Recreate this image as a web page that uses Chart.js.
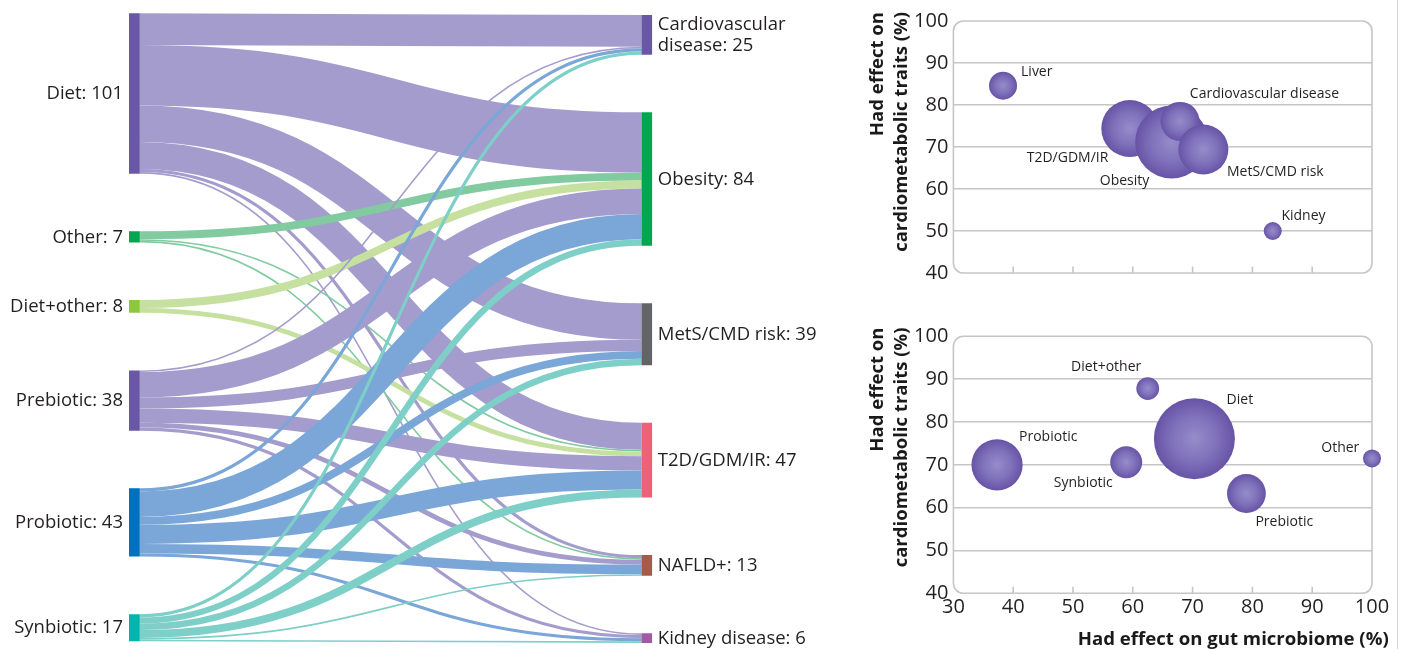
<!DOCTYPE html>
<html><head><meta charset="utf-8">
<script src="https://cdn.jsdelivr.net/npm/chart.js@4.4.1/dist/chart.umd.min.js"></script>
<style>
html,body{margin:0;padding:0;background:#fff;width:1401px;height:649px;overflow:hidden;}
.box{position:absolute;}
#sankeyBox{left:0;top:0;width:860px;height:649px;}
#topBox{left:860px;top:0;width:541px;height:290px;}
#botBox{left:860px;top:290px;width:541px;height:359px;}
#vline{position:absolute;left:1396.5px;top:0;width:1.5px;height:649px;background:#d2d2d2;}
</style></head>
<body>
<div class="box" id="sankeyBox"><canvas id="sankey" width="860" height="649"></canvas></div>
<div id="vline"></div>
<div class="box" id="topBox"><canvas id="top" width="541" height="290"></canvas></div>
<div class="box" id="botBox"><canvas id="bot" width="541" height="359"></canvas></div>
<script>
// ---------------- DATA ----------------
// Sankey: sources (interventions) and targets (traits)
const sourceNames = ['Diet', 'Other', 'Diet+other', 'Prebiotic', 'Probiotic', 'Synbiotic'];
const targetNames = ['Cardiovascular disease', 'Obesity', 'MetS/CMD risk', 'T2D/GDM/IR', 'NAFLD+', 'Kidney disease'];
// flows from each source to targets (order as targetNames)
const dietFlows      = [20, 38, 23, 17, 2, 1];
const otherFlows     = [0, 5, 0, 1, 1, 0];
const dietOtherFlows = [0, 5, 0, 3, 0, 0];
const prebioticFlows = [1, 16, 7, 9, 3, 2];
const probioticFlows = [2, 16, 5, 12, 6, 2];
const synbioticFlows = [2, 4, 4, 5, 1, 1];

// Bubble chart 1: traits
const traitNames = ['Liver', 'T2D/GDM/IR', 'Obesity', 'Cardiovascular disease', 'MetS/CMD risk', 'Kidney'];
const traitGut    = [38.3, 59.5, 66.5, 67.9, 71.8, 83.4];
const traitCardio = [84.6, 74.4, 71.2, 76.1, 69.4, 50.0];
const traitBubbleR = [14, 28.5, 36.5, 19.5, 25, 9];

// Bubble chart 2: interventions
const intNames  = ['Probiotic', 'Diet+other', 'Synbiotic', 'Diet', 'Prebiotic', 'Other'];
const intGut    = [37.3, 62.5, 58.9, 70.3, 79.0, 100];
const intCardio = [70.0, 87.8, 70.6, 76.1, 63.3, 71.5];
const intBubbleR = [25.6, 11.4, 16, 40.5, 19.4, 9];

const yTickValues = [40, 50, 60, 70, 80, 90, 100];
const xTickValues = [30, 40, 50, 60, 70, 80, 90, 100];
const yTitleLines = ['Had effect on', 'cardiometabolic traits (%)'];
const xTitleText = 'Had effect on gut microbiome (%)';

// ---------------- STYLES ----------------
const FONT = '"Open Sans", "DejaVu Sans", sans-serif';
const TEXT = '#231f20';
const sourceNodeColors = ['#6a57a5', '#00a650', '#8dc63f', '#6a57a5', '#0071bc', '#00b5ad'];
const sourceLinkColors = ['#a49ccc', '#82caa0', '#c6e0a0', '#a49ccc', '#7ba6d8', '#7dcfc8'];
const targetNodeColors = ['#6a57a5', '#00a650', '#636466', '#ef6079', '#a85a4a', '#a35aa6'];
const targetLabelWrap = [['Cardiovascular', 'disease'], null, null, null, null, null];

// ---------------- SANKEY ----------------
const flowRows = [dietFlows, otherFlows, dietOtherFlows, prebioticFlows, probioticFlows, synbioticFlows];
const sourceTotals = flowRows.map(r => r.reduce((a, b) => a + b, 0));
const targetTotals = targetNames.map((_, j) => flowRows.reduce((a, r) => a + r[j], 0));

const Y_MAX_UNITS = 408.8;     // y scale extent in flow units
const NODE_GAP = 36.3;         // gap between nodes in flow units
const COL_TOP = [8.4, 9.45];   // top offset for each column
const NODE_W = 0.0206;         // node width in x-scale units

function stackColumn(totals, top) {
  let y = top;
  return totals.map(t => { const s = y; y += t + NODE_GAP; return [s, s + t]; });
}
const srcPos = stackColumn(sourceTotals, COL_TOP[0]);
const tgtPos = stackColumn(targetTotals, COL_TOP[1]);

const nodeData = srcPos.map(p => ({ x: NODE_W / 2, y: p })).concat(tgtPos.map(p => ({ x: 1 - NODE_W / 2, y: p })));
const nodeColors = sourceNodeColors.concat(targetNodeColors);

const linksPlugin = {
  id: 'sankeyLinks',
  beforeDatasetsDraw(chart) {
    const { ctx } = chart;
    const xs = chart.scales.x, ys = chart.scales.y;
    const x0 = xs.getPixelForValue(NODE_W), x1 = xs.getPixelForValue(1 - NODE_W);
    const k = Math.abs(ys.getPixelForValue(1) - ys.getPixelForValue(0));
    const sy = flowRows.map(() => []), ty = flowRows.map(() => []);
    const sc = srcPos.map(p => p[0]), tc = tgtPos.map(p => p[0]);
    flowRows.forEach((row, i) => row.forEach((v, j) => { if (v > 0) { sy[i][j] = sc[i] + v / 2; sc[i] += v; } }));
    targetNames.forEach((_, j) => flowRows.forEach((row, i) => { const v = row[j]; if (v > 0) { ty[i][j] = tc[j] + v / 2; tc[j] += v; } }));
    const xm = (x0 + x1) / 2;
    ctx.save();
    ctx.lineCap = 'butt';
    flowRows.forEach((row, i) => row.forEach((v, j) => {
      if (v <= 0) return;
      const ya = ys.getPixelForValue(sy[i][j]), yb = ys.getPixelForValue(ty[i][j]);
      ctx.beginPath();
      ctx.moveTo(x0, ya);
      ctx.bezierCurveTo(xm, ya, xm, yb, x1, yb);
      ctx.strokeStyle = sourceLinkColors[i];
      ctx.lineWidth = v * k;
      ctx.stroke();
    }));
    ctx.restore();
  },
  afterDatasetsDraw(chart) {
    const { ctx } = chart;
    const xs = chart.scales.x, ys = chart.scales.y;
    ctx.save();
    ctx.fillStyle = TEXT;
    ctx.font = '18.5px ' + FONT;
    ctx.textBaseline = 'middle';
    ctx.textAlign = 'right';
    srcPos.forEach((p, i) => {
      const y = ys.getPixelForValue((p[0] + p[1]) / 2);
      ctx.fillText(sourceNames[i] + ': ' + sourceTotals[i], xs.getPixelForValue(0) - 6, y + 0.5);
    });
    ctx.textAlign = 'left';
    tgtPos.forEach((p, j) => {
      const y = ys.getPixelForValue((p[0] + p[1]) / 2);
      const lines = targetLabelWrap[j] ? targetLabelWrap[j].slice() : [targetNames[j]];
      lines[lines.length - 1] += ': ' + targetTotals[j];
      const lh = 20.7;
      lines.forEach((ln, n) => {
        ctx.fillText(ln, xs.getPixelForValue(1) + 5.5, y + 0.5 + (n - (lines.length - 1) / 2) * lh);
      });
    });
    ctx.restore();
  }
};

new Chart(document.getElementById('sankey'), {
  type: 'bar',
  data: { datasets: [{ data: nodeData, backgroundColor: nodeColors, barThickness: 10.8, grouped: false, borderWidth: 0, inflateAmount: 0 }] },
  options: {
    responsive: false, animation: false,
    layout: { padding: { left: 129, right: 207.7, top: 0, bottom: 0 }, autoPadding: false },
    plugins: { legend: { display: false }, tooltip: { enabled: false } },
    scales: {
      x: { type: 'linear', min: 0, max: 1, display: false, offset: false },
      y: { type: 'linear', min: 0, max: Y_MAX_UNITS, reverse: true, display: false }
    }
  },
  plugins: [linksPlugin]
});

// ---------------- BUBBLE CHARTS ----------------
function bubbleFill(c) {
  const chart = c.chart, raw = c.raw;
  if (!raw || !chart.chartArea) return '#7a6cb5';
  const x = chart.scales.x.getPixelForValue(raw.x), y = chart.scales.y.getPixelForValue(raw.y);
  const g = chart.ctx.createRadialGradient(x, y, 0, x, y, raw.r);
  g.addColorStop(0, '#968cca');
  g.addColorStop(0.55, '#7f72bb');
  g.addColorStop(1, '#6853a6');
  return g;
}

function fitFontSize(ctx, text, weight, width) {
  ctx.save();
  ctx.font = weight + ' 100px ' + FONT;
  const w = ctx.measureText(text).width;
  ctx.restore();
  return 100 * width / w;
}

const framePlugin = {
  id: 'frame',
  beforeDatasetsDraw(chart) {
    const { ctx, chartArea: a } = chart;
    const r = 10;
    ctx.save();
    ctx.strokeStyle = '#c6c6c6';
    ctx.lineWidth = 1.6;
    ctx.beginPath();
    ctx.moveTo(a.left + r, a.top);
    ctx.lineTo(a.right - r, a.top);
    ctx.arcTo(a.right, a.top, a.right, a.top + r, r);
    ctx.lineTo(a.right, a.bottom - r);
    ctx.arcTo(a.right, a.bottom, a.right - r, a.bottom, r);
    ctx.lineTo(a.left + r, a.bottom);
    ctx.arcTo(a.left, a.bottom, a.left, a.bottom - r, r);
    ctx.lineTo(a.left, a.top + r);
    ctx.arcTo(a.left, a.top, a.left + r, a.top, r);
    ctx.closePath();
    ctx.stroke();
    ctx.beginPath();
    xTickValues.slice(1, -1).forEach(v => {
      const x = chart.scales.x.getPixelForValue(v);
      ctx.moveTo(x, a.bottom);
      ctx.lineTo(x, a.bottom - 6.5);
    });
    ctx.stroke();
    ctx.restore();
  },
  afterDatasetsDraw(chart) {
    const { ctx } = chart;
    const o = chart.options.plugins.frame;
    const ds = chart.data.datasets[0];
    ctx.save();
    ctx.fillStyle = TEXT;
    ctx.font = '14px ' + FONT;
    ctx.textBaseline = 'middle';
    ds.data.forEach((d, i) => {
      const x = chart.scales.x.getPixelForValue(d.x), y = chart.scales.y.getPixelForValue(d.y);
      const off = o.labelOffsets[i];
      ctx.textAlign = off[2];
      ctx.fillText(o.names[i], x + off[0], y + off[1]);
    });
    // y title (rotated, aligned to top)
    const size = fitFontSize(ctx, yTitleLines[1], 'bold', 240);
    ctx.font = 'bold ' + size.toFixed(2) + 'px ' + FONT;
    ctx.fillStyle = '#1a1a1a';
    ctx.textAlign = 'right';
    ctx.textBaseline = 'middle';
    yTitleLines.forEach((ln, n) => {
      ctx.save();
      ctx.translate(o.yTitleX[n], o.yTitleTop);
      ctx.rotate(-Math.PI / 2);
      ctx.fillText(ln, 0, 0);
      ctx.restore();
    });
    if (o.showXTitle) {
      const xs = fitFontSize(ctx, xTitleText, 'bold', 311);
      ctx.font = 'bold ' + xs.toFixed(2) + 'px ' + FONT;
      ctx.textAlign = 'right';
      ctx.fillText(xTitleText, o.xTitleRight, o.xTitleY);
    }
    ctx.restore();
  }
};

function makeBubble(id, names, xs, ys, rs, cfg) {
  return new Chart(document.getElementById(id), {
    type: 'bubble',
    data: { datasets: [{ data: names.map((n, i) => ({ x: xs[i], y: ys[i], r: rs[i] })), backgroundColor: bubbleFill, borderWidth: 0, hoverBorderWidth: 0, clip: false }] },
    options: {
      responsive: false, animation: false,
      layout: { padding: cfg.padding, autoPadding: false },
      plugins: {
        legend: { display: false }, tooltip: { enabled: false },
        frame: { names: names, labelOffsets: cfg.labelOffsets, yTitleX: cfg.yTitleX, yTitleTop: cfg.yTitleTop, showXTitle: cfg.showX, xTitleRight: 528.7, xTitleY: 350 }
      },
      scales: {
        x: {
          type: 'linear', min: xTickValues[0], max: xTickValues[xTickValues.length - 1],
          afterBuildTicks: s => { s.ticks = xTickValues.map(v => ({ value: v })); },
          grid: { display: false, drawTicks: false },
          border: { display: false },
          ticks: { display: cfg.showX, color: TEXT, font: { family: FONT, size: 20 }, padding: 2, maxRotation: 0, autoSkip: false },
          afterFit: s => { s.height = cfg.xHeight; }
        },
        y: {
          type: 'linear', min: yTickValues[0], max: yTickValues[yTickValues.length - 1],
          afterBuildTicks: s => { s.ticks = yTickValues.map(v => ({ value: v })); },
          grid: { color: c => (c.tick && (c.tick.value === 40 || c.tick.value === 100)) ? 'rgba(0,0,0,0)' : '#c6c6c6', lineWidth: 1.6, drawTicks: false },
          border: { display: false },
          ticks: { color: TEXT, font: { family: FONT, size: 20 }, padding: 5 },
          afterFit: s => { s.width = 93.4; }
        }
      }
    },
    plugins: [framePlugin]
  });
}

makeBubble('top', traitNames, traitGut, traitCardio, traitBubbleR, {
  padding: { left: 0, right: 29, top: 21, bottom: 12 },
  xHeight: 0, showX: false,
  yTitleX: [18, 41.5], yTitleTop: 12,
  labelOffsets: [[18, -14, 'left'], [-21.5, 29.3, 'right'], [-22.4, 39.4, 'right'], [9.8, -27.3, 'left'], [23.6, 22, 'left'], [8.7, -15.3, 'left']]
});

makeBubble('bot', intNames, intGut, intCardio, intBubbleR, {
  padding: { left: 0, right: 29, top: 46.3, bottom: 0 },
  xHeight: 55.7, showX: true,
  yTitleX: [18, 41.5], yTitleTop: 37.5,
  labelOffsets: [[22, -27.3, 'left'], [-6.5, -21.7, 'right'], [-13.4, 20.6, 'right'], [32.2, -38.3, 'left'], [9, 28.4, 'left'], [-12.7, -10.6, 'right']]
});
</script>
</body></html>
